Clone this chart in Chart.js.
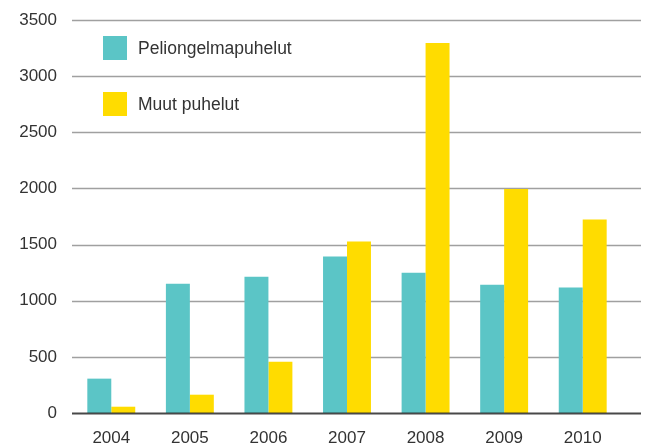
<!DOCTYPE html>
<html>
<head>
<meta charset="utf-8">
<script src="https://cdn.jsdelivr.net/npm/chart.js@4"></script>
<style>
  html, body { margin: 0; padding: 0; background: #fff; }
  .wrap { position: relative; width: 646px; height: 448px; }
  .legend { position: absolute; left: 103px; top: 36px; font-family: "Liberation Sans", Arial, sans-serif; font-size: 17.5px; color: #333; }
  .legend div { display: flex; align-items: center; height: 24px; margin-bottom: 32px; }
  .legend span { display: inline-block; width: 24px; height: 24px; margin-right: 11px; }
</style>
</head>
<body>
<div class="wrap">
  <canvas class="chart" width="646" height="448"></canvas>
  <div class="legend"></div>
</div>
<script>
const years = ["2004", "2005", "2006", "2007", "2008", "2009", "2010"];
const peliongelmaCalls = [306, 1152, 1213, 1393, 1250, 1143, 1117];
const otherCalls = [56, 163, 457, 1527, 3295, 1996, 1723];
const seriesNames = ["Peliongelmapuhelut", "Muut puhelut"];
const seriesColors = ["#5bc5c6", "#ffdc00"];

const chart = document.querySelector(".chart");
const legend = document.querySelector(".legend");

// grid lines run a bit further right than the bars
const gridLines = {
  id: "gridLines",
  beforeDatasetsDraw(c) {
    const y = c.scales.y;
    const ctx = c.ctx;
    ctx.save();
    ctx.strokeStyle = "#a0a0a0";
    ctx.lineWidth = 1.5;
    y.ticks.forEach(t => {
      if (t.value === 0) return;
      const py = Math.round(y.getPixelForValue(t.value)) + 0.5;
      ctx.beginPath();
      ctx.moveTo(c.chartArea.left, py);
      ctx.lineTo(c.chartArea.right + 19, py);
      ctx.stroke();
    });
    ctx.restore();
  },
  afterDatasetsDraw(c) {
    const ctx = c.ctx;
    const py = Math.round(c.scales.y.getPixelForValue(0)) + 0.5;
    ctx.save();
    ctx.strokeStyle = "rgba(40,40,40,0.85)";
    ctx.lineWidth = 2;
    ctx.beginPath();
    ctx.moveTo(c.chartArea.left, py);
    ctx.lineTo(c.chartArea.right + 19, py);
    ctx.stroke();
    ctx.restore();
  }
};

const font = { family: "'Liberation Sans', Arial, sans-serif", size: 17 };

const callChart = new Chart(chart, {
  type: "bar",
  data: {
    labels: years,
    datasets: [
      { label: seriesNames[0], data: peliongelmaCalls, backgroundColor: seriesColors[0] },
      { label: seriesNames[1], data: otherCalls, backgroundColor: seriesColors[1] }
    ]
  },
  options: {
    responsive: false,
    animation: false,
    layout: { padding: { top: 20, right: 24, left: 0, bottom: 0 } },
    datasets: { bar: { categoryPercentage: 0.61, barPercentage: 1 } },
    plugins: { legend: { display: false }, tooltip: { enabled: false } },
    scales: {
      x: {
        grid: { display: false, drawTicks: false },
        border: { display: false },
        ticks: { color: "#333", font: font, padding: 15, maxRotation: 0 },
        afterFit(s) { s.height = 35; }
      },
      y: {
        min: 0,
        max: 3500,
        grid: { display: false, drawTicks: false },
        border: { display: false },
        ticks: { stepSize: 500, color: "#333", font: font, padding: 15, callback: v => String(v) },
        afterFit(s) {
          s.width = 72;
          s.paddingTop = 0;
          s.paddingBottom = 0;
        }
      }
    }
  },
  plugins: [gridLines]
});

for (let i = 0; i < seriesNames.length; i++) {
  const row = document.createElement("div");
  const box = document.createElement("span");
  box.style.background = seriesColors[i];
  row.appendChild(box);
  row.appendChild(document.createTextNode(seriesNames[i]));
  legend.appendChild(row);
}
</script>
</body>
</html>
